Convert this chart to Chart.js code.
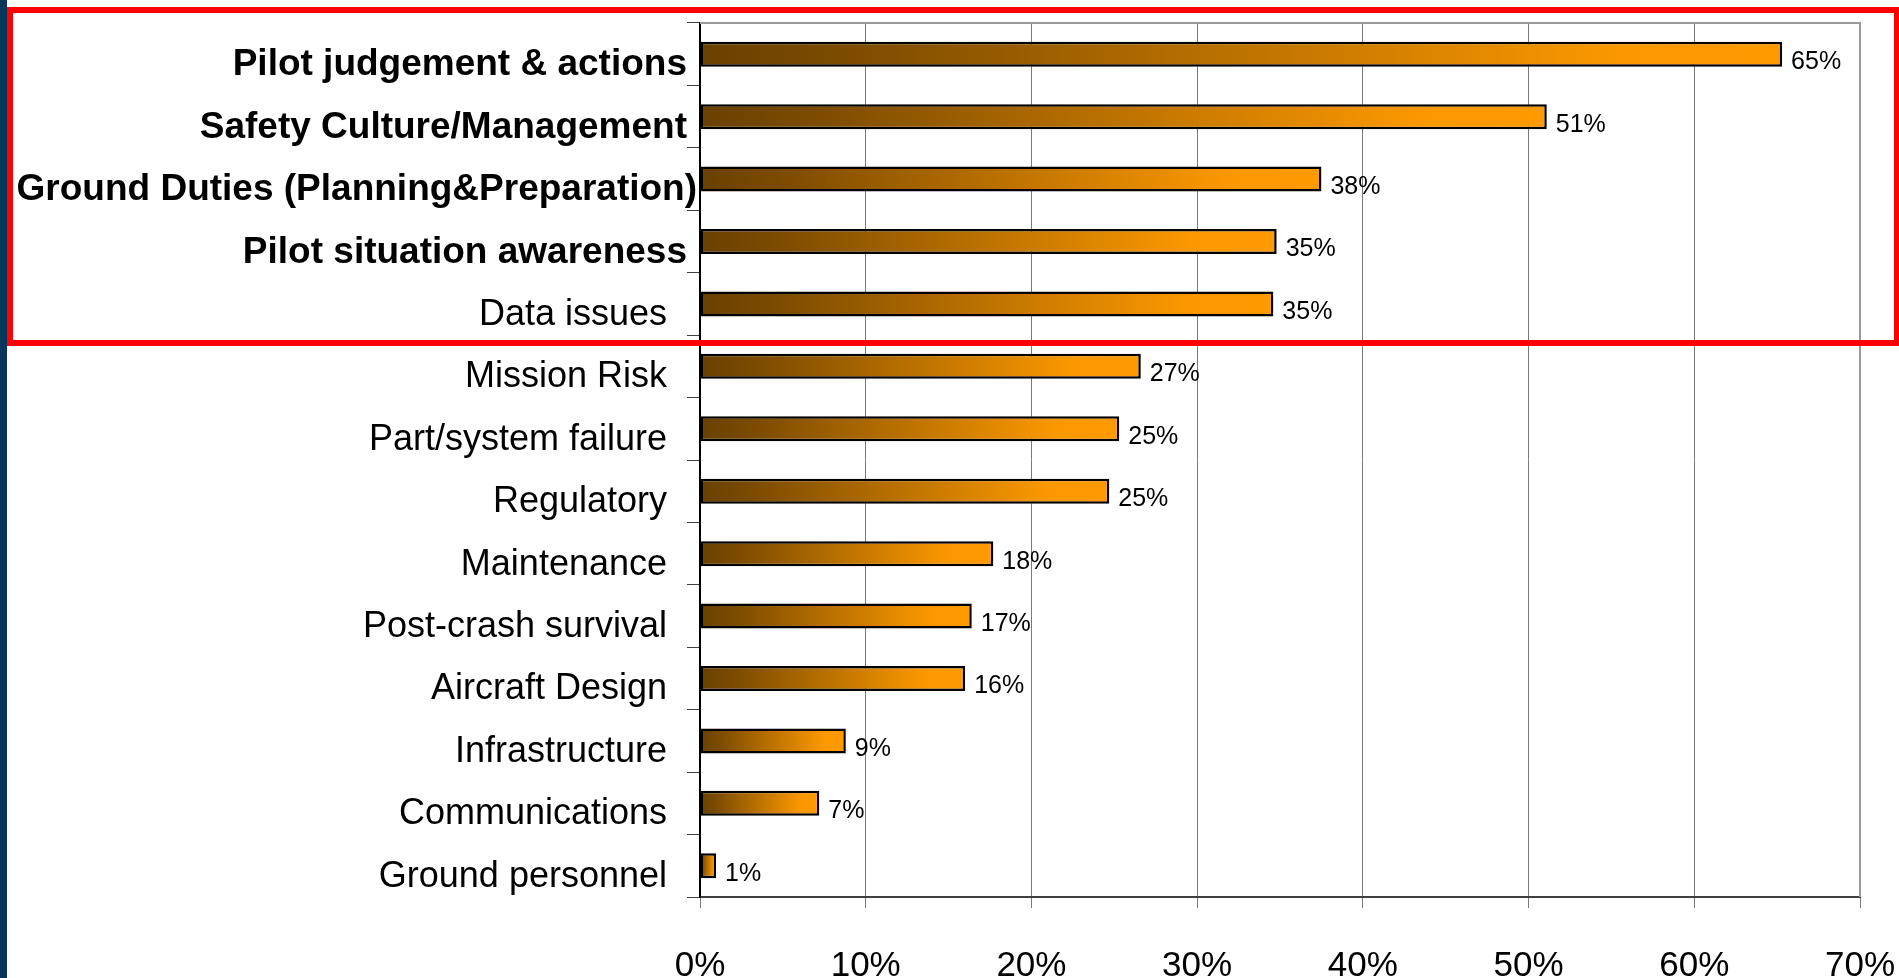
<!DOCTYPE html>
<html><head><meta charset="utf-8">
<script src="https://cdn.jsdelivr.net/npm/chart.js@4.4.1/dist/chart.umd.min.js"></script>
<style>html,body{margin:0;padding:0;background:#fff;overflow:hidden}#wrap{width:1899px;height:978px;position:relative}</style>
</head><body><div id="wrap"><canvas id="c" width="1899" height="978"></canvas></div>
<script>
const categories = ['Pilot judgement & actions','Safety Culture/Management','Ground Duties (Planning&Preparation)','Pilot situation awareness','Data issues','Mission Risk','Part/system failure','Regulatory','Maintenance','Post-crash survival','Aircraft Design','Infrastructure','Communications','Ground personnel'];
const values = [0.653, 0.511, 0.375, 0.348, 0.346, 0.266, 0.253, 0.247, 0.177, 0.164, 0.160, 0.088, 0.072, 0.0097];
const valueLabels = ['65%','51%','38%','35%','35%','27%','25%','25%','18%','17%','16%','9%','7%','1%'];
const tickValues = [0, 0.1, 0.2, 0.3, 0.4, 0.5, 0.6, 0.7];
const tickLabels = ['0%','10%','20%','30%','40%','50%','60%','70%'];
const boldCount = 4;
const wideIndex = 2; // the long label that overhangs the tick marks

const FONT = '"Liberation Sans", Arial, sans-serif';

function barGradient(c) {
  const chart = c.chart;
  const xs = chart.scales && chart.scales.x;
  if (!xs || c.raw === undefined) return '#ff9900';
  const x0 = xs.getPixelForValue(0);
  const x1 = xs.getPixelForValue(c.raw);
  if (!isFinite(x0) || !isFinite(x1) || x1 - x0 < 1) return '#ff9900';
  const g = chart.ctx.createLinearGradient(x0, 0, x1, 0);
  g.addColorStop(0, '#6a4000');
  g.addColorStop(0.12, '#7a4a00');
  g.addColorStop(0.85, '#fb9800');
  g.addColorStop(1, '#ff9a00');
  return g;
}

const decor = {
  id: 'decor',
  afterDatasetsDraw(chart) {
    const ctx = chart.ctx;
    const meta = chart.getDatasetMeta(0);
    ctx.save();
    ctx.font = '25px ' + FONT;
    ctx.fillStyle = '#000';
    ctx.textAlign = 'left';
    ctx.textBaseline = 'middle';
    meta.data.forEach((el, i) => {
      ctx.fillText(valueLabels[i], el.x + 9, el.y + 8);
    });
    // long category label, drawn closer to the axis as in the original
    const ys = chart.scales.y;
    ctx.font = 'bold 37px ' + FONT;
    ctx.textAlign = 'right';
    ctx.fillText(categories[wideIndex], ys.right - 3, ys.getPixelForTick(wideIndex) + 11);
    ctx.restore();
  },
  afterDraw(chart) {
    const ctx = chart.ctx;
    const a = chart.chartArea;
    ctx.save();
    ctx.strokeStyle = '#999999';
    ctx.lineWidth = 2;
    ctx.beginPath();
    ctx.moveTo(a.left, a.top);
    ctx.lineTo(a.right, a.top);
    ctx.lineTo(a.right, a.bottom);
    ctx.stroke();
    ctx.fillStyle = '#06375b';
    ctx.fillRect(0, 0, 7, 978);
    ctx.strokeStyle = '#ff0000';
    ctx.lineWidth = 6;
    ctx.strokeRect(10, 10, 1887, 333);
    ctx.restore();
  }
};

new Chart(document.getElementById('c'), {
  type: 'bar',
  data: {
    labels: categories,
    datasets: [{
      data: values,
      backgroundColor: barGradient,
      borderColor: '#000000',
      borderWidth: 2.5,
      borderSkipped: false,
      categoryPercentage: 0.8,
      barPercentage: 0.5
    }]
  },
  options: {
    indexAxis: 'y',
    responsive: false,
    animation: false,
    devicePixelRatio: 1,
    layout: { padding: { top: 23, right: 39, left: 0, bottom: 0 } },
    plugins: { legend: { display: false }, tooltip: { enabled: false } },
    scales: {
      x: {
        type: 'linear',
        min: 0, max: 0.7,
        afterBuildTicks: s => { s.ticks = tickValues.map(v => ({ value: v })); },
        afterFit: s => { s.height = 81; s.paddingLeft = 0; s.paddingRight = 0; },
        ticks: {
          callback: (v, i) => tickLabels[i],
          font: { family: FONT, size: 35 },
          color: '#000',
          padding: 37,
          maxRotation: 0,
          autoSkip: false
        },
        grid: { color: '#7a7a7a', lineWidth: 1, tickLength: 11, drawTicks: true },
        border: { display: true, color: '#404040', width: 2 }
      },
      y: {
        type: 'category',
        afterFit: s => { s.width = 700; s.paddingTop = 0; s.paddingBottom = 0; },
        ticks: {
          callback: (v, i) => i < boldCount ? categories[i] : categories[i] + '  ',
          font: c => ({ family: FONT, size: c.index < boldCount ? 37 : 36, weight: c.index < boldCount ? 'bold' : 'normal' }),
          color: c => c.index === wideIndex ? 'rgba(0,0,0,0)' : '#000',
          padding: 0,
          labelOffset: 11,
          autoSkip: false
        },
        grid: { drawOnChartArea: false, drawTicks: true, tickLength: 13, color: '#404040', offset: true },
        border: { display: true, color: '#000', width: 2 }
      }
    }
  },
  plugins: [decor]
});
</script>
</body></html>
